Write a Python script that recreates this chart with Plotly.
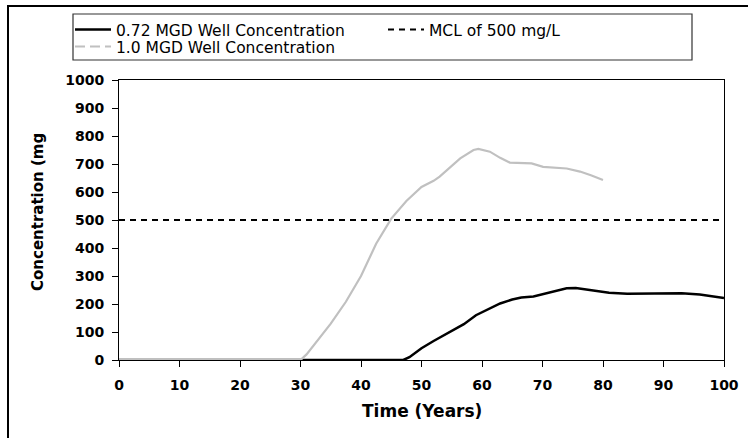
import plotly.graph_objects as go

# ---- data ----
years_072 = [0, 47, 48, 50, 52, 54, 57, 59, 61, 63, 65, 66.5, 68.5, 70, 72, 74, 75.5, 77, 79, 81, 84, 87, 90, 93, 96, 100]
conc_072 = [0, 0, 10, 42, 68, 91, 128, 160, 182, 202, 216, 223, 227, 235, 245, 256, 257, 252, 245, 240, 237, 238, 239, 238, 234, 221]

years_10 = [0, 30, 31, 33, 35, 37.5, 40, 42.5, 45, 47.5, 50, 52, 53, 56.4, 58.6, 59.4, 61.3, 63, 64.6, 68.2, 70.1, 74, 76.2, 78, 80]
conc_10 = [0, 0, 20, 75, 130, 208, 300, 415, 505, 568, 618, 640, 655, 720, 750, 754, 744, 722, 705, 702, 690, 684, 673, 660, 643]

mcl_years = [0, 100]
mcl_conc = [500, 500]

x_ticks = list(range(0, 101, 10))
y_ticks = list(range(0, 1001, 100))

names = ["0.72 MGD Well Concentration", "MCL of 500 mg/L", "1.0 MGD Well Concentration"]

FONT = "DejaVu Sans, Liberation Sans, Arial, sans-serif"
W, H = 748, 438
L, R, T, B = 119, 24, 80, 78
PW, PH = W - L - R, H - T - B


def px(xpix):
    return (xpix - L) / PW


def py(ypix):
    return (H - B - ypix) / PH


fig = go.Figure()
fig.add_trace(go.Scatter(x=years_072, y=conc_072, mode="lines", name=names[0],
                         legend="legend",
                         line=dict(color="#000000", width=2.5)))
fig.add_trace(go.Scatter(x=mcl_years, y=mcl_conc, mode="lines", name=names[1],
                         legend="legend2",
                         line=dict(color="#000000", width=2, dash="6px,5px")))
fig.add_trace(go.Scatter(x=years_10, y=conc_10, mode="lines", name=names[2],
                         showlegend=False,
                         line=dict(color="#c0c0c0", width=2.2)))
# legend entry for 1.0 MGD (dashed symbol, as in the reference legend)
fig.add_trace(go.Scatter(x=[None], y=[None], mode="lines", name=names[2],
                         legend="legend3",
                         line=dict(color="#c0c0c0", width=2, dash="10px,5px")))

axis_common = dict(
    showgrid=False, zeroline=False, showline=True, mirror=True,
    linecolor="#000000", linewidth=1, ticks="outside", ticklen=6,
    tickcolor="#000000", tickfont=dict(family=FONT, size=14, color="#000000", weight="bold"),
    layer="below traces",
)

fig.update_xaxes(range=[0, 100], tickvals=x_ticks, ticklabelstandoff=6, **axis_common)
fig.update_yaxes(range=[0, 1000], tickvals=y_ticks, ticklabelstandoff=5, **axis_common)

legend_common = dict(
    orientation="v", xref="container", yref="container",
    xanchor="left", yanchor="middle",
    borderwidth=0, bgcolor="rgba(0,0,0,0)",
    font=dict(family=FONT, size=15.5, color="#000000"),
    itemwidth=36, tracegroupgap=0,
)

fig.update_layout(
    width=W, height=H,
    margin=dict(l=L, r=R, t=T, b=B, autoexpand=False),
    paper_bgcolor="#ffffff", plot_bgcolor="#ffffff",
    font=dict(family=FONT, color="#000000"),
    showlegend=True,
    legend=dict(x=70 / W, y=1 - 30 / H, **legend_common),
    legend2=dict(x=383 / W, y=1 - 30 / H, **legend_common),
    legend3=dict(x=70 / W, y=1 - 47 / H, **legend_common),
    annotations=[
        dict(text="Time (Years)", xref="paper", yref="paper", x=0.5, y=py(411),
             xanchor="center", yanchor="middle", showarrow=False,
             font=dict(family=FONT, size=17, color="#000000", weight="bold")),
        dict(text="Concentration (mg", xref="paper", yref="paper", x=px(38),
             y=py(212), xanchor="center", yanchor="middle", textangle=-90,
             showarrow=False,
             font=dict(family=FONT, size=15, color="#000000", weight="bold")),
    ],
    shapes=[
        # outer chart frame (only top and left edges fall inside the image)
        dict(type="rect", xref="paper", yref="paper",
             x0=px(8), x1=px(W + 20), y0=py(H + 20), y1=py(6),
             line=dict(color="#000000", width=2), layer="below"),
        # legend box
        dict(type="rect", xref="paper", yref="paper",
             x0=px(73), x1=px(692), y0=py(60), y1=py(14),
             line=dict(color="#333333", width=1.2), fillcolor="#ffffff", layer="below"),
    ],
)

fig.write_html("out.html", config={"displayModeBar": False},
               post_script="document.body.style.margin='0';document.body.style.padding='0';")
